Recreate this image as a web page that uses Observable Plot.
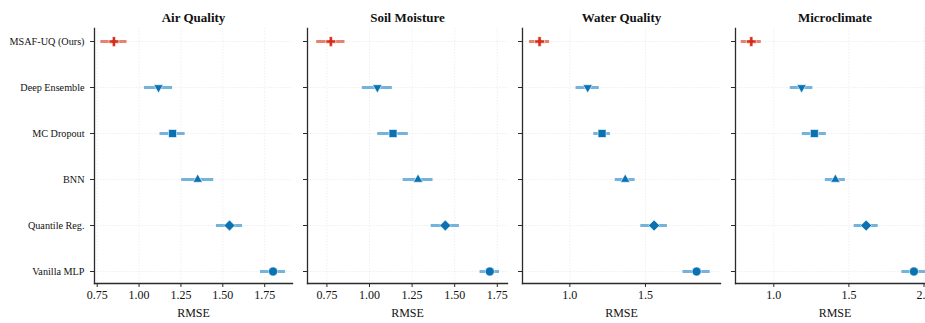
<!DOCTYPE html>
<html>
<head>
<meta charset="utf-8">
<script src="https://cdn.jsdelivr.net/npm/d3@7"></script>
<script src="https://cdn.jsdelivr.net/npm/@observablehq/plot@0.6"></script>
<style>
  html, body { margin: 0; padding: 0; background: #fff; overflow: hidden; }
  #row { display: flex; flex-wrap: nowrap; width: 960px; }
  #row > svg { flex-shrink: 0; display: block; }
  #row svg, #row svg text { font-family: "Liberation Serif", "Times New Roman", Tinos, serif !important; }
</style>
</head>
<body>
<div id="row"></div>
<script>
// ---- data ----
const methods = ["MSAF-UQ (Ours)", "Deep Ensemble", "MC Dropout", "BNN", "Quantile Reg.", "Vanilla MLP"];
const datasets = ["Air Quality", "Soil Moisture", "Water Quality", "Microclimate"];

const rmseAir   = [0.85, 1.116, 1.20, 1.35, 1.54, 1.80];
const stdAir    = [0.078, 0.084, 0.075, 0.096, 0.078, 0.075];
const rmseSoil  = [0.773, 1.046, 1.138, 1.285, 1.445, 1.706];
const stdSoil   = [0.083, 0.088, 0.09, 0.088, 0.083, 0.057];
const rmseWater = [0.80, 1.118, 1.213, 1.366, 1.557, 1.838];
const stdWater  = [0.066, 0.077, 0.055, 0.066, 0.088, 0.09];
const rmseMicro = [0.85, 1.185, 1.27, 1.41, 1.615, 1.933];
const stdMicro  = [0.067, 0.075, 0.08, 0.067, 0.08, 0.08];

const xTicksAir   = [0.75, 1.00, 1.25, 1.50, 1.75];
const xTicksSoil  = [0.75, 1.00, 1.25, 1.50, 1.75];
const xTicksWater = [1.0, 1.5];
const xTicksMicro = [1.0, 1.5, 2.0];

// ---- styles / layout (not data) ----
const series = [
  {rmse: rmseAir,   std: stdAir,   ticks: xTicksAir,   fmt: ".2f", domain: [0.734, 1.916], width: 300, ml: 94, mr: 8},
  {rmse: rmseSoil,  std: stdSoil,  ticks: xTicksSoil,  fmt: ".2f", domain: [0.636, 1.81],  width: 214, ml: 7,  mr: 7},
  {rmse: rmseWater, std: stdWater, ticks: xTicksWater, fmt: ".1f", domain: [0.687, 1.996], width: 213, ml: 8,  mr: 7},
  {rmse: rmseMicro, std: stdMicro, ticks: xTicksMicro, fmt: ".1f", domain: [0.745, 2.07],  width: 214, ml: 8,  mr: 7}
];
const markerStyle = [
  {symbol: "cross",    r: 4.1, rotate: 0},
  {symbol: "triangle", r: 3.5, rotate: 180},
  {symbol: "square",   r: 4.5, rotate: 0},
  {symbol: "triangle", r: 3.5, rotate: 0},
  {symbol: "square",   r: 4.4, rotate: 45},
  {symbol: "circle",   r: 4.5, rotate: 0}
];
const oursColor = "#d42e1b", oursBar = "#e8826f";
const baseColor = "#0a71b3", baseBar = "#74b4dc";
const font = "Liberation Serif, Times New Roman, serif";

const row = document.getElementById("row");

datasets.forEach((name, p) => {
  const s = series[p];
  const rows = methods.map((m, i) => ({method: m, rmse: s.rmse[i], std: s.std[i], idx: i}));
  const ours = rows.filter(d => d.idx === 0);
  const others = rows.filter(d => d.idx !== 0);
  const fmt = d3.format(s.fmt);

  const marks = [
    Plot.gridX(s.ticks, {stroke: "#cfcfcf", strokeOpacity: 0.55, strokeWidth: 0.6, strokeDasharray: "1.5,1.5"}),
    Plot.gridY(methods, {stroke: "#cfcfcf", strokeOpacity: 0.55, strokeWidth: 0.6, strokeDasharray: "1.5,1.5"}),
    Plot.ruleY(others, {y: "method", x1: d => d.rmse - d.std, x2: d => d.rmse + d.std, stroke: baseBar, strokeWidth: 3}),
    Plot.ruleY(ours, {y: "method", x1: d => d.rmse - d.std, x2: d => d.rmse + d.std, stroke: oursBar, strokeWidth: 3}),
    ...rows.map(d => {
      const ms = markerStyle[d.idx];
      return Plot.dot([d], {
        x: "rmse", y: "method",
        symbol: ms.symbol, r: ms.r, rotate: ms.rotate,
        fill: d.idx === 0 ? oursColor : baseColor,
        stroke: "white", strokeWidth: 0.6
      });
    }),
    Plot.frame({anchor: "left", stroke: "#2b2b2b", strokeWidth: 1.3}),
    Plot.frame({anchor: "bottom", stroke: "#2b2b2b", strokeWidth: 1.3}),
    Plot.axisX({ticks: s.ticks, tickFormat: fmt, tickSize: 4, tickPadding: 3, fontSize: 12,
                label: null, stroke: "#2b2b2b"}),
    Plot.text(["RMSE"], {frameAnchor: "bottom", dy: 33, fontSize: 12, fill: "#111"}),
    Plot.axisY({tickSize: 4, tickPadding: 6, fontSize: 10.2, label: null, stroke: "#2b2b2b",
                tickFormat: p === 0 ? (d => d) : (() => "")}),
    Plot.text([name], {frameAnchor: "top", dy: -16, fontSize: 13, fontWeight: "bold", fill: "#111"})
  ];

  const chart = Plot.plot({
    width: s.width,
    height: 323,
    marginLeft: s.ml,
    marginRight: s.mr,
    marginTop: 28,
    marginBottom: 40,
    style: {fontFamily: font, fontSize: "12px", color: "#111", background: "white", overflow: "visible"},
    x: {domain: s.domain, label: null},
    y: {type: "point", domain: methods, padding: 0.25, label: null},
    marks
  });
  row.appendChild(chart);
});
</script>
</body>
</html>
